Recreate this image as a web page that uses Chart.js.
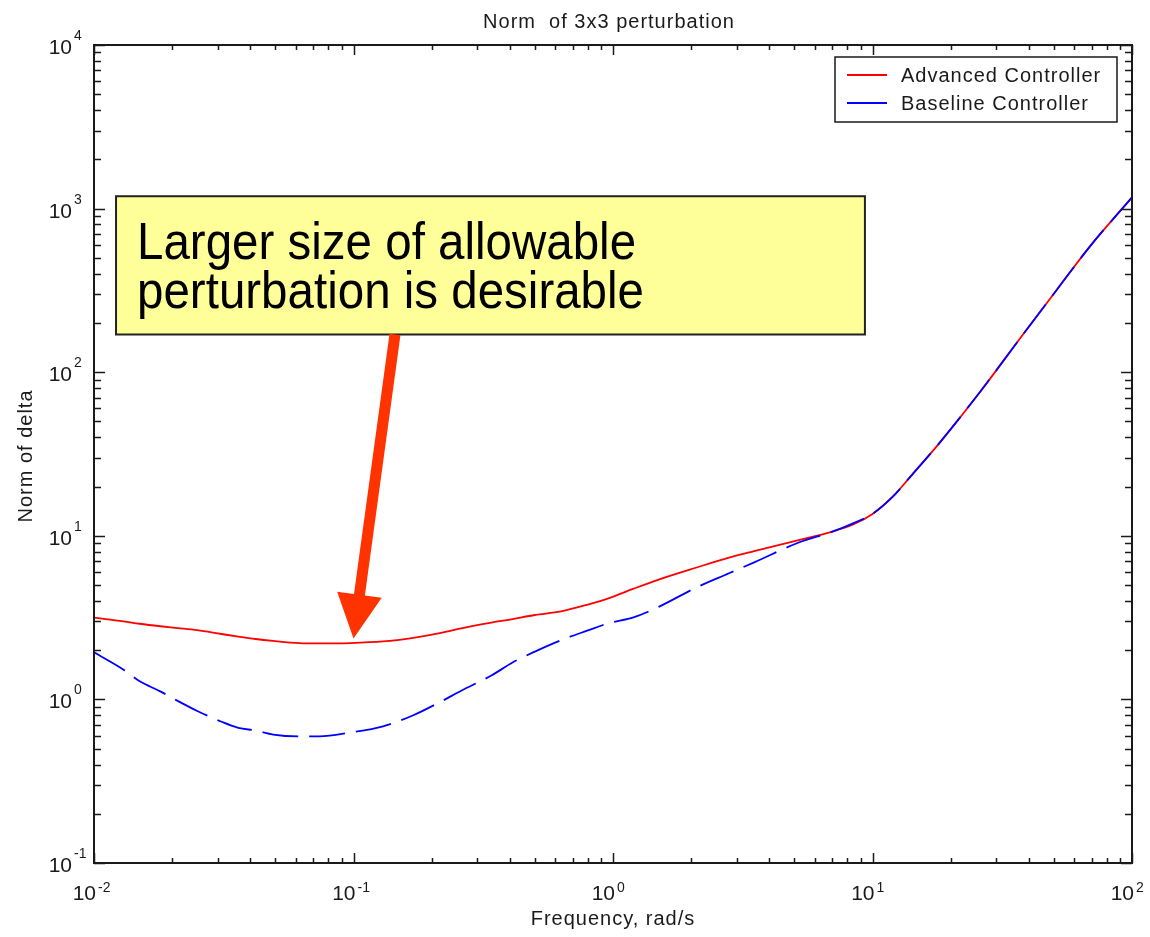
<!DOCTYPE html>
<html>
<head>
<meta charset="utf-8">
<title>Norm of 3x3 perturbation</title>
<script src="https://cdn.jsdelivr.net/npm/chart.js@4.4.1/dist/chart.umd.min.js"></script>
<style>
  html, body { margin: 0; padding: 0; background: #fff; }
  canvas { display: block; }
</style>
</head>
<body>
<canvas id="deltaChart" width="1150" height="937"></canvas>
<script>
// values (rad/s vs norm of delta)
const frequency = [0.01, 0.013, 0.015, 0.018, 0.021, 0.025, 0.031, 0.036, 0.042, 0.049,
    0.062, 0.074, 0.097, 0.13, 0.17, 0.22, 0.26, 0.34, 0.41, 0.5,
    0.63, 0.8, 0.96, 1.2, 1.5, 2.1, 2.8, 3.5, 5.2, 7,
    8.5, 10, 12, 14, 18, 26, 38, 51, 69, 100];
const advancedNorm = [3.16, 3.0, 2.9, 2.8, 2.73, 2.65, 2.51, 2.42, 2.34, 2.28,
    2.21, 2.2, 2.21, 2.26, 2.38, 2.56, 2.72, 2.95, 3.1, 3.28,
    3.45, 3.8, 4.15, 4.75, 5.4, 6.4, 7.35, 8.05, 9.4, 10.6,
    11.8, 13.6, 17.4, 23, 36.5, 76, 170, 315, 590, 1170];
const baselineNorm = [1.94, 1.52, 1.29, 1.12, 0.98, 0.85, 0.73, 0.67, 0.645, 0.61,
    0.594, 0.594, 0.627, 0.685, 0.8, 0.98, 1.13, 1.4, 1.68, 1.96,
    2.3, 2.64, 2.92, 3.17, 3.68, 4.84, 5.9, 6.88, 9.1, 10.6,
    12, 13.6, 17.4, 23, 36.5, 76, 170, 315, 590, 1170];
const xTicks = [0.01, 0.1, 1, 10, 100];
const yTicks = [0.1, 1, 10, 100, 1000, 10000];
const seriesLabels = ['Advanced Controller', 'Baseline Controller'];
const seriesColors = ['#ff0000', '#0000ff'];
const noteLines = ['Larger size of allowable', 'perturbation is desirable'];

const FONT = '"Liberation Sans", Arial, Helvetica, sans-serif';
const INK = '#1a1a1a';

const toPoints = (ys) => frequency.map((f, i) => ({ x: f, y: ys[i] }));

// 10 with a raised exponent, "10" right edge at x
function drawPower(ctx, exp, x, y, raise) {
    ctx.font = '21px ' + FONT;
    ctx.textAlign = 'left';
    ctx.textBaseline = 'alphabetic';
    const w = ctx.measureText('10').width;
    ctx.fillText('10', x - w, y);
    ctx.font = '14px ' + FONT;
    ctx.fillText(String(exp), x + 2, y - raise);
}

function minorValues(min, max) {
    const out = [];
    for (let k = Math.round(Math.log10(min)); k < Math.round(Math.log10(max)); k++) {
        for (let m = 2; m <= 9; m++) out.push(m * Math.pow(10, k));
    }
    return out;
}

const matlabAxes = {
    id: 'matlabAxes',
    afterDatasetsDraw(chart) {
        const { ctx, chartArea: a, scales: { x, y } } = chart;
        ctx.save();
        ctx.strokeStyle = INK;
        ctx.fillStyle = INK;
        ctx.lineWidth = 1.5;

        // inward ticks on all four sides
        ctx.beginPath();
        const xt = (v, len) => {
            const px = Math.round(x.getPixelForValue(v)) + 0.5;
            ctx.moveTo(px, a.bottom); ctx.lineTo(px, a.bottom - len);
            ctx.moveTo(px, a.top); ctx.lineTo(px, a.top + len);
        };
        const yt = (v, len) => {
            const py = Math.round(y.getPixelForValue(v)) + 0.5;
            ctx.moveTo(a.left, py); ctx.lineTo(a.left + len, py);
            ctx.moveTo(a.right, py); ctx.lineTo(a.right - len, py);
        };
        x.ticks.forEach(t => xt(t.value, 10));
        minorValues(x.min, x.max).forEach(v => xt(v, 5));
        y.ticks.forEach(t => yt(t.value, 11));
        minorValues(y.min, y.max).forEach(v => yt(v, 7));
        ctx.stroke();

        // box
        ctx.lineWidth = 2;
        ctx.strokeRect(a.left, a.top, a.right - a.left, a.bottom - a.top);

        // tick labels
        x.ticks.forEach(t => {
            drawPower(ctx, Math.round(Math.log10(t.value)), x.getPixelForValue(t.value) + 2, a.bottom + 37, 8);
        });
        y.ticks.forEach(t => {
            drawPower(ctx, Math.round(Math.log10(t.value)), a.left - 22, y.getPixelForValue(t.value) + 9, 14);
        });
        ctx.restore();
    },
    afterDraw(chart) {
        const { ctx, chartArea: a, scales: { x, y } } = chart;
        ctx.save();
        ctx.fillStyle = INK;
        ctx.letterSpacing = '1px';

        // title and axis titles
        ctx.font = '20px ' + FONT;
        ctx.textAlign = 'center';
        ctx.textBaseline = 'alphabetic';
        ctx.fillText('Norm  of 3x3 perturbation', (a.left + a.right) / 2 - 4, a.top - 17);
        ctx.fillText('Frequency, rad/s', (a.left + a.right) / 2, a.bottom + 62);
        ctx.save();
        ctx.translate(a.left - 62, (a.top + a.bottom) / 2 + 2);
        ctx.rotate(-Math.PI / 2);
        ctx.fillText('Norm of delta', 0, 0);
        ctx.restore();

        // legend box, upper right
        const lx = a.right - 297, ly = a.top + 12, lw = 282, lh = 65;
        ctx.fillStyle = '#fff';
        ctx.fillRect(lx, ly, lw, lh);
        ctx.strokeStyle = INK;
        ctx.lineWidth = 1.5;
        ctx.strokeRect(lx, ly, lw, lh);
        chart.data.datasets.forEach((ds, i) => {
            const yy = ly + 18 + i * 28;
            ctx.strokeStyle = ds.borderColor;
            ctx.lineWidth = 2;
            ctx.beginPath();
            ctx.moveTo(lx + 12, yy);
            ctx.lineTo(lx + 52, yy);
            ctx.stroke();
            ctx.fillStyle = INK;
            ctx.font = '20px ' + FONT;
            ctx.textAlign = 'left';
            ctx.fillText(ds.label, lx + 66, yy + 7);
        });

        // callout box placed in data units
        const bx0 = x.getPixelForValue(0.01216), bx1 = x.getPixelForValue(9.35);
        const by0 = y.getPixelForValue(1190), by1 = y.getPixelForValue(170);
        ctx.letterSpacing = '0px';
        ctx.fillStyle = '#ffff99';
        ctx.fillRect(bx0, by0, bx1 - bx0, by1 - by0);
        ctx.strokeStyle = '#222';
        ctx.lineWidth = 2;
        ctx.strokeRect(bx0, by0, bx1 - bx0, by1 - by0);
        ctx.fillStyle = '#000';
        ctx.font = '47.5px ' + FONT;
        ctx.textAlign = 'left';
        noteLines.forEach((line, i) => {
            ctx.save();
            ctx.translate(bx0 + 21, by0 + 63 + i * 49);
            ctx.scale(1, 1.08);
            ctx.fillText(line, 0, 0);
            ctx.restore();
        });

        // arrow from the box down to the red curve minimum
        const tx = x.getPixelForValue(0.1445), ty = by1;
        const hx = x.getPixelForValue(0.1), hy = y.getPixelForValue(2.36);
        const ang = Math.atan2(hy - ty, hx - tx);
        const len = Math.hypot(hx - tx, hy - ty);
        ctx.translate(tx, ty);
        ctx.rotate(ang);
        ctx.fillStyle = '#ff3300';
        ctx.beginPath();
        ctx.moveTo(0, -5.5);
        ctx.lineTo(len - 44, -5.5);
        ctx.lineTo(len - 44, -22.5);
        ctx.lineTo(len, 0);
        ctx.lineTo(len - 44, 22.5);
        ctx.lineTo(len - 44, 5.5);
        ctx.lineTo(0, 5.5);
        ctx.closePath();
        ctx.fill();
        ctx.restore();
    }
};

const ctx = document.getElementById('deltaChart').getContext('2d');
window.deltaChart = new Chart(ctx, {
    type: 'line',
    data: {
        datasets: [{
            label: seriesLabels[0],
            data: toPoints(advancedNorm),
            borderColor: seriesColors[0],
            borderWidth: 1.8,
            pointRadius: 0,
            cubicInterpolationMode: 'monotone',
            order: 2
        }, {
            label: seriesLabels[1],
            data: toPoints(baselineNorm),
            borderColor: seriesColors[1],
            borderWidth: 1.8,
            borderDash: [36, 11],
            pointRadius: 0,
            cubicInterpolationMode: 'monotone',
            order: 1
        }]
    },
    options: {
        responsive: false,
        animation: false,
        layout: { padding: { top: 45, right: 18, left: 0, bottom: 0 } },
        plugins: {
            legend: { display: false },
            title: { display: false },
            tooltip: { enabled: false }
        },
        scales: {
            x: {
                type: 'logarithmic',
                min: xTicks[0],
                max: xTicks[xTicks.length - 1],
                grid: { display: false },
                border: { display: false },
                ticks: { display: false },
                afterBuildTicks: (s) => { s.ticks = xTicks.map(v => ({ value: v, major: true })); },
                afterFit: (s) => { s.height = 74; }
            },
            y: {
                type: 'logarithmic',
                min: yTicks[0],
                max: yTicks[yTicks.length - 1],
                grid: { display: false },
                border: { display: false },
                ticks: { display: false },
                afterBuildTicks: (s) => { s.ticks = yTicks.map(v => ({ value: v, major: true })); },
                afterFit: (s) => { s.width = 94; }
            }
        }
    },
    plugins: [matlabAxes]
});
</script>
</body>
</html>
